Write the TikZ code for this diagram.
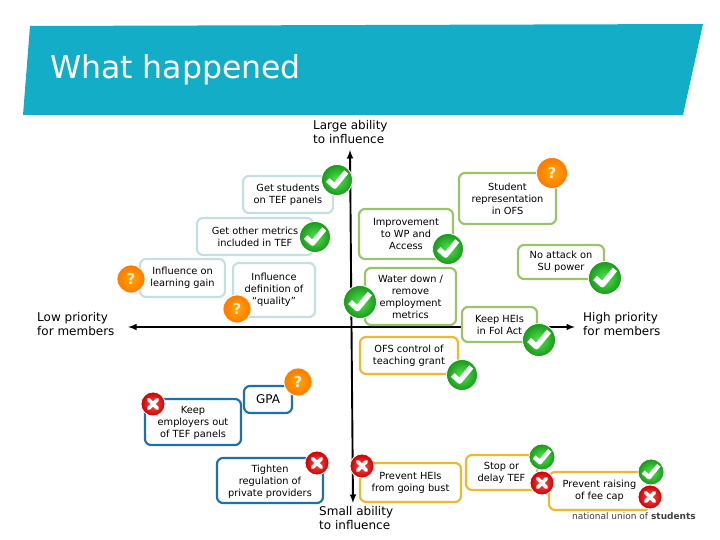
\documentclass[tikz,border=0pt]{standalone}
\usepackage{fontspec}
\setmainfont{DejaVu Sans}
\usepackage{xcolor}
\definecolor{bannerblue}{RGB}{19,173,199}
\definecolor{paleblue}{RGB}{197,222,226}
\definecolor{leafgreen}{RGB}{155,196,106}
\definecolor{amber}{RGB}{239,185,47}
\definecolor{deepblue}{RGB}{31,111,168}

\begin{document}
\begin{tikzpicture}[x=1pt,y=-1pt,
    box/.style={draw,line width=2.2pt,rounded corners=6pt,fill=white,align=center,inner sep=0pt,font=\fontsize{9.8}{12}\selectfont},
    paleb/.style={box,draw=paleblue},
    greenb/.style={box,draw=leafgreen},
    amberb/.style={box,draw=amber},
    blueb/.style={box,draw=deepblue},
    badge/.style={circle,draw=white,line width=0.8pt,inner sep=0pt,text=white},
    okb/.style={badge,minimum size=#1,inner color=green!65!white!90!black,outer color=green!55!black!90!white,
        path picture={\draw[white,line width=0.17*#1,line join=round]
            ([xshift=-0.3*#1,yshift=0*#1]path picture bounding box.center) -- ([xshift=-0.08*#1,yshift=-0.2*#1]path picture bounding box.center) -- ([xshift=0.3*#1,yshift=0.26*#1]path picture bounding box.center);}},
    nob/.style={badge,minimum size=#1,inner color=red!70!white,outer color=red!80!black,
        path picture={\draw[white,line width=0.16*#1,line cap=round]
            ([xshift=-0.18*#1,yshift=-0.18*#1]path picture bounding box.center) -- ([xshift=0.18*#1,yshift=0.18*#1]path picture bounding box.center)
            ([xshift=-0.18*#1,yshift=0.18*#1]path picture bounding box.center) -- ([xshift=0.18*#1,yshift=-0.18*#1]path picture bounding box.center);}},
    askb/.style={badge,minimum size=#1,inner color=orange!70!yellow,outer color=orange!95!red,text=white!85!orange,font=\bfseries\fontsize{15}{15}\selectfont},
    axislabel/.style={align=left,anchor=north west,inner sep=0pt,font=\fontsize{12}{14}\selectfont}]
    \useasboundingbox (0,0) rectangle (720,540);

    % Banner
    \fill[bannerblue] (30,26) -- (703,24) -- (683,115) -- (23,115) -- cycle;
    \node[anchor=west,inner sep=0pt,text=white,font=\fontsize{31.5}{32}\selectfont] (title) at (50,70) {What happened};

    % Axes
    \coordinate (top) at (350,150);
    \coordinate (bottom) at (353,503);
    \coordinate (left) at (128,327);
    \coordinate (right) at (575,327);
    \draw[line width=1.9pt,latex-latex] (top) -- (bottom);
    \draw[line width=1.9pt,latex-latex] (left) -- (right);

    % Axis labels
    \node[axislabel] (large) at (313,120) {Large ability\\to influence};
    \node[axislabel] (small) at (319,506) {Small ability\\to influence};
    \node[axislabel] (low) at (37,312) {Low priority\\for members};
    \node[axislabel] (high) at (583,312) {High priority\\for members};

    % Upper left boxes
    \node[paleb,minimum width=90pt,minimum height=37pt] (students) at (288,194.5) {Get students\\on TEF panels};
    \node[paleb,minimum width=116pt,minimum height=37pt] (metrics) at (255,236.5) {Get other metrics\\included in TEF};
    \node[paleb,minimum width=85pt,minimum height=38pt] (gain) at (182.5,278) {Influence on\\learning gain};
    \node[paleb,minimum width=82pt,minimum height=54pt] (quality) at (274,290) {Influence\\definition of\\``quality''};

    % Upper right boxes
    \node[greenb,minimum width=97pt,minimum height=51pt] (rep) at (507.5,198.5) {Student\\representation\\in OFS};
    \node[greenb,minimum width=94pt,minimum height=50pt] (access) at (406,234) {Improvement\\to WP and\\Access};
    \node[greenb,minimum width=86pt,minimum height=34pt] (power) at (561,262) {No attack on\\SU power};
    \node[greenb,minimum width=91pt,minimum height=57pt] (water) at (410.5,296.5) {Water down /\\remove\\employment\\metrics};
    \node[greenb,minimum width=75pt,minimum height=35pt] (foi) at (499.5,324.5) {Keep HEIs\\in FoI Act};

    % Lower right boxes
    \node[amberb,minimum width=98pt,minimum height=37pt] (grant) at (409,355.5) {OFS control of\\teaching grant};
    \node[amberb,minimum width=101pt,minimum height=39pt] (bust) at (410.5,482.5) {Prevent HEIs\\from going bust};
    \node[amberb,minimum width=71pt,minimum height=35pt] (delay) at (501.5,472.5) {Stop or\\delay TEF};
    \node[amberb,minimum width=101pt,minimum height=38pt] (cap) at (599.5,491) {Prevent raising\\of fee cap};

    % Lower left boxes
    \node[blueb,minimum width=48pt,minimum height=27pt,font=\fontsize{12}{14}\selectfont] (gpa) at (268,399.5) {GPA};
    \node[blueb,minimum width=96pt,minimum height=46pt,text depth=-4pt] (employers) at (193,422) {Keep\\employers out\\of TEF panels};
    \node[blueb,minimum width=106pt,minimum height=45pt,text depth=-4pt] (providers) at (270,480.5) {Tighten\\regulation of\\private providers};

    % Ticks
    \foreach \name/\x/\y/\d in {tickstudents/337/180/31, tickmetrics/315/237/31, tickwater/360/302/33, tickaccess/448/249/31, tickpower/605/278/33, tickfoi/539/340/33, tickgrant/462/375/31, tickdelay/542/457/26, tickcap/651/472/26} {
        \node[okb=\d pt] (\name) at (\x,\y) {};
    }

    % Crosses
    \foreach \name/\x/\y in {crossemployers/153/404, crossproviders/317/463, crossbust/362/466, crossdelay/542/483, crosscap/650/497} {
        \node[nob=24pt] (\name) at (\x,\y) {};
    }

    % Question marks
    \foreach \name/\x/\y/\d in {askgain/131/279/28, askquality/237/309/28, askrep/552/173/31, askgpa/298/382/28} {
        \node[askb=\d pt] (\name) at (\x,\y) {?};
    }

    % Logo
    \node[anchor=east,inner sep=0pt,text=black!75,font=\fontsize{9}{10}\selectfont] (logo) at (696,516) {national union of \textbf{students}};
\end{tikzpicture}
\end{document}
